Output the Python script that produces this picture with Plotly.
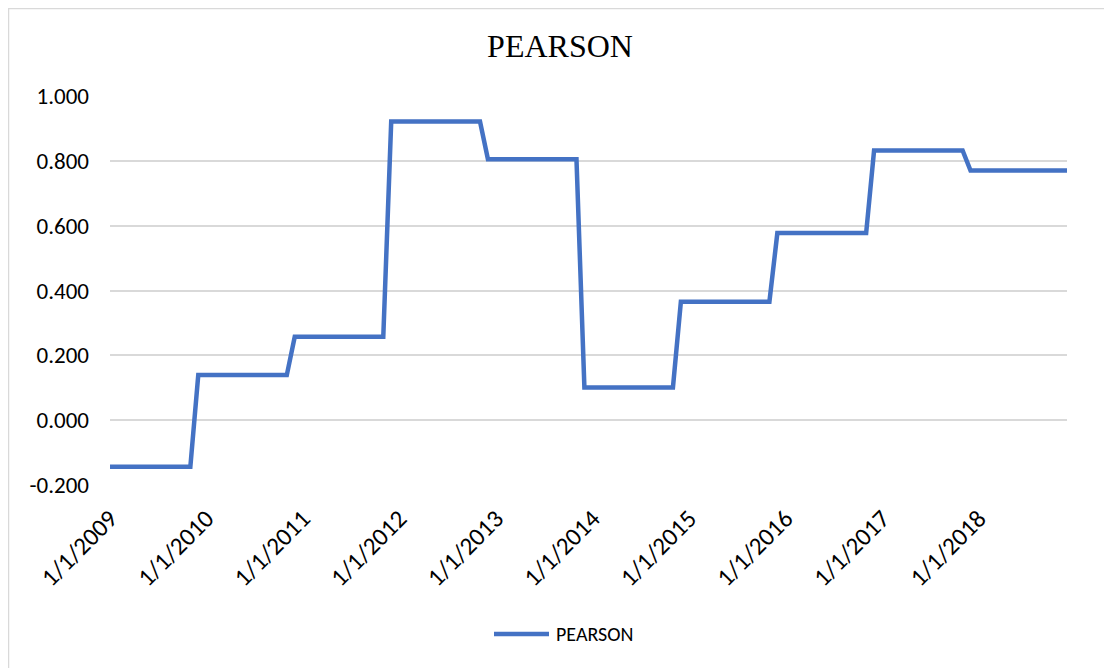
import plotly.graph_objects as go

# corner points of the stepped PEARSON line (values change each December)
dates = [
    "2009-01-01", "2009-11-01", "2009-12-01", "2010-11-01", "2010-12-01",
    "2011-11-01", "2011-12-01", "2012-11-01", "2012-12-01", "2013-11-01",
    "2013-12-01", "2014-11-01", "2014-12-01", "2015-11-01", "2015-12-01",
    "2016-11-01", "2016-12-01", "2017-11-01", "2017-12-01", "2018-12-01",
]
pearson = [
    -0.144, -0.144, 0.139, 0.139, 0.257,
    0.257, 0.921, 0.921, 0.805, 0.805,
    0.101, 0.101, 0.365, 0.365, 0.577,
    0.577, 0.832, 0.832, 0.770, 0.770,
]

x_tick_dates = [f"{y}-01-01" for y in range(2009, 2019)]
x_tick_labels = [f"1/1/{y}" for y in range(2009, 2019)]
y_tick_vals = [-0.2, 0.0, 0.2, 0.4, 0.6, 0.8, 1.0]
y_tick_labels = ["-0.200", "0.000", "0.200", "0.400", "0.600", "0.800", "1.000"]

LINE_COLOR = "#4472C4"
FONT_FAMILY = "Calibri, Carlito, Lato, sans-serif"

# the page adds an 8px body margin, so figure pixels = page pixels - 8
W, H = 1112, 668
L, R, T, B = 102, 53, 88, 191
PW, PH = W - L - R, H - T - B


def px(x):
    return (x - L) / PW


def py(y):
    return (H - B - y) / PH


fig = go.Figure()
fig.add_trace(
    go.Scatter(
        x=dates,
        y=pearson,
        mode="lines",
        name="PEARSON",
        line=dict(color=LINE_COLOR, width=4.5),
        showlegend=False,
    )
)

fig.update_layout(
    width=W,
    height=H,
    paper_bgcolor="white",
    plot_bgcolor="white",
    margin=dict(l=L, r=R, t=T, b=B),
    title=dict(
        text="PEARSON",
        font=dict(family="Times New Roman, Liberation Serif, serif", size=32, color="#000000"),
        x=552 / W,
        xanchor="center",
        xref="container",
        y=1 - 38 / H,
        yanchor="middle",
        yref="container",
    ),
    shapes=[
        # chart border (extends past the screenshot on the right and bottom)
        dict(
            type="rect", xref="paper", yref="paper",
            x0=px(0.5), x1=px(W + 20), y0=py(H + 20), y1=py(0.5),
            line=dict(color="#D9D9D9", width=1.5), layer="below",
        ),
        # legend sample line
        dict(
            type="line", xref="paper", yref="paper",
            x0=px(486), x1=px(541), y0=py(626), y1=py(626),
            line=dict(color=LINE_COLOR, width=4.5),
        ),
    ],
    annotations=[
        dict(
            text="PEARSON", xref="paper", yref="paper",
            x=px(546), y=py(626), xanchor="left", yanchor="middle",
            showarrow=False, font=dict(family=FONT_FAMILY, size=20, color="#000000"),
        )
    ],
)

fig.update_xaxes(
    type="date",
    range=["2009-01-01", "2018-12-01"],
    tickvals=x_tick_dates,
    ticktext=x_tick_labels,
    tickangle=-45,
    tickfont=dict(family=FONT_FAMILY, size=25, color="#000000"),
    showgrid=False,
    zeroline=False,
    showline=False,
    ticks="",
    ticklabelstandoff=13,
)
fig.update_yaxes(
    range=[-0.2, 1.0],
    tickvals=y_tick_vals,
    ticktext=y_tick_labels,
    tickfont=dict(family=FONT_FAMILY, size=23, color="#000000"),
    showgrid=True,
    gridcolor="#D9D9D9",
    gridwidth=1.5,
    zeroline=False,
    showline=False,
    ticks="",
    ticklabelstandoff=20,
)

fig.write_html("out.html")
